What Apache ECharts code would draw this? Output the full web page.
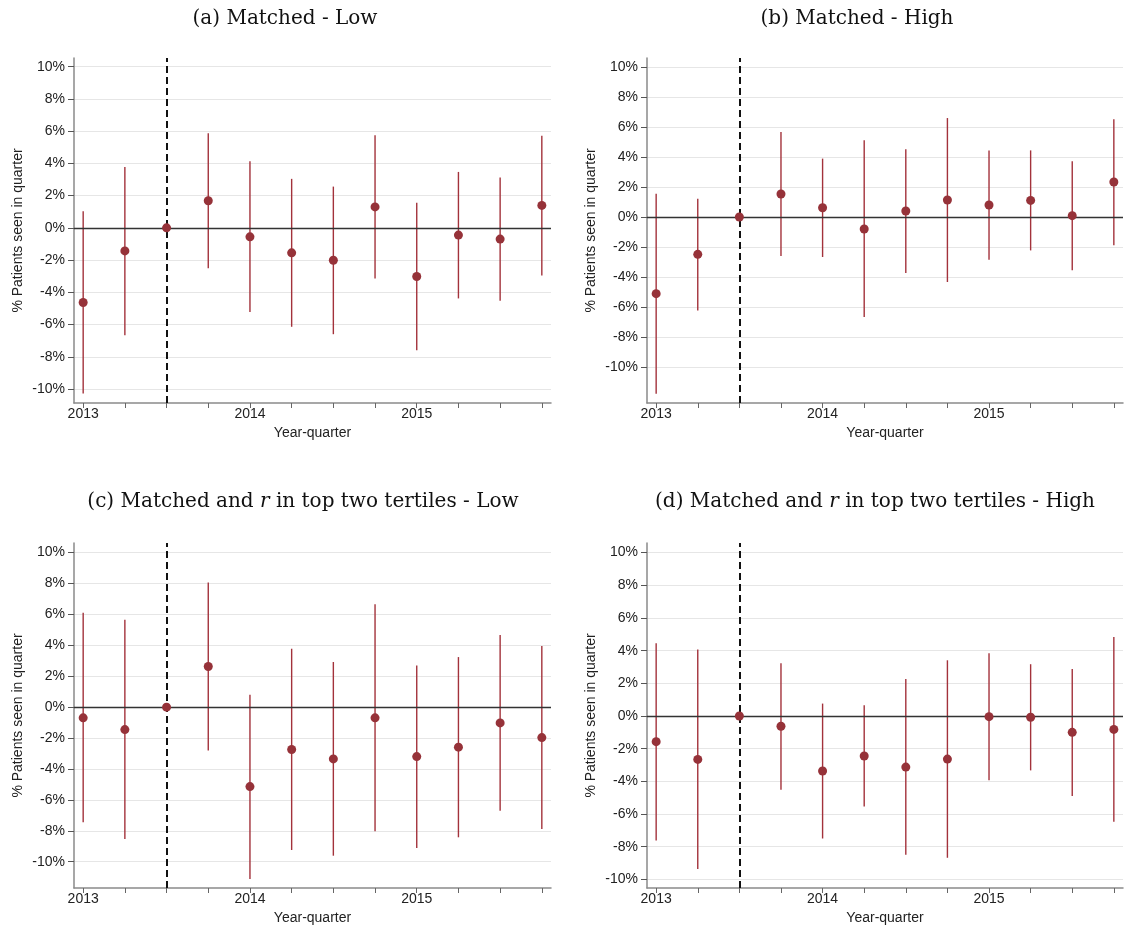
<!DOCTYPE html>
<html>
<head>
<meta charset="utf-8">
<script src="https://cdn.jsdelivr.net/npm/echarts@6/dist/echarts.min.js"></script>
<style>
  html, body { margin: 0; padding: 0; background: #fff; }
  #chart { width: 1130px; height: 928px; }
</style>
</head>
<body>
<div id="chart"></div>
<script>
// quarters 2013q1 .. 2015q4 as index 0..11
var quarters = [0, 1, 2, 3, 4, 5, 6, 7, 8, 9, 10, 11];
var yearTicks = [0, 4, 8];
var yearNames = ['2013', '2014', '2015'];
var yTicks = [-10, -8, -6, -4, -2, 0, 2, 4, 6, 8, 10];
var refQuarter = 2;

// (a) Matched - Low
var estA = [-4.63, -1.43, 0, 1.68, -0.56, -1.55, -2.01, 1.30, -3.02, -0.45, -0.70, 1.39];
var loA  = [-10.28, -6.66, 0, -2.50, -5.23, -6.14, -6.60, -3.14, -7.59, -4.38, -4.53, -2.96];
var hiA  = [1.03, 3.78, 0, 5.87, 4.14, 3.04, 2.56, 5.75, 1.55, 3.47, 3.12, 5.71];

// (b) Matched - High
var estB = [-5.12, -2.49, 0, 1.54, 0.62, -0.80, 0.40, 1.14, 0.80, 1.11, 0.09, 2.34];
var loB  = [-11.8, -6.24, 0, -2.61, -2.67, -6.68, -3.74, -4.34, -2.85, -2.23, -3.56, -1.89];
var hiB  = [1.56, 1.22, 0, 5.68, 3.90, 5.12, 4.52, 6.61, 4.45, 4.45, 3.72, 6.53];

// (c) Matched and r in top two tertiles - Low
var estC = [-0.69, -1.45, 0, 2.63, -5.14, -2.74, -3.35, -0.69, -3.20, -2.59, -1.02, -1.97];
var loC  = [-7.45, -8.53, 0, -2.81, -11.12, -9.24, -9.61, -8.03, -9.11, -8.42, -6.70, -7.88];
var hiC  = [6.11, 5.66, 0, 8.06, 0.80, 3.78, 2.92, 6.65, 2.70, 3.24, 4.67, 3.95];

// (d) Matched and r in top two tertiles - High
var estD = [-1.57, -2.66, 0, -0.63, -3.37, -2.45, -3.13, -2.64, -0.04, -0.08, -1.00, -0.82];
var loD  = [-7.62, -9.36, 0, -4.51, -7.50, -5.54, -8.50, -8.68, -3.94, -3.33, -4.90, -6.48];
var hiD  = [4.45, 4.07, 0, 3.23, 0.76, 0.65, 2.27, 3.41, 3.84, 3.17, 2.88, 4.84];

var panels = [
    { title: '(a) Matched - Low', cx: 280, ty: 14, est: estA, lo: loA, hi: hiA, min: -10.87, max: 10.54,
      grid: { left: 74, top: 58, width: 477, height: 345 } },
    { title: '(b) Matched - High', cx: 852, ty: 14, est: estB, lo: loB, hi: hiB, min: -12.42, max: 10.62,
      grid: { left: 647, top: 58, width: 476, height: 345 } },
    { title: '(c) Matched and {i|r} in top two tertiles - Low', cx: 298, ty: 497, est: estC, lo: loC, hi: hiC, min: -11.70, max: 10.62,
      grid: { left: 74, top: 543, width: 477, height: 345 } },
    { title: '(d) Matched and {i|r} in top two tertiles - High', cx: 870, ty: 497, est: estD, lo: loD, hi: hiD, min: -10.53, max: 10.59,
      grid: { left: 647, top: 543, width: 476, height: 345 } }
];

var ciColor = '#a3323b';
var dotColor = '#963239';
var labelFont = 'Liberation Sans, Arial, sans-serif';

var myChart = echarts.init(document.getElementById('chart'), null, { renderer: 'canvas' });

var grids = [], xAxes = [], yAxes = [], series = [], titles = [];

panels.forEach(function (p, i) {
    grids.push(p.grid);
    titles.push({
        text: p.title,
        left: p.cx,
        top: p.ty,
        textAlign: 'center',
        textVerticalAlign: 'middle',
        textStyle: {
            fontFamily: 'DejaVu Serif, serif',
            fontSize: 20,
            fontWeight: 'normal',
            color: '#111',
            rich: {
                i: { fontFamily: 'DejaVu Serif, serif', fontSize: 20, fontStyle: 'italic', color: '#111' }
            }
        }
    });
    xAxes.push({
        type: 'value',
        gridIndex: i,
        min: -0.22,
        max: 11.22,
        name: 'Year-quarter',
        nameLocation: 'middle',
        nameGap: 23,
        nameTextStyle: { fontFamily: labelFont, fontSize: 14, color: '#222' },
        axisLine: { show: true, onZero: false, lineStyle: { color: '#8a8a8a', width: 1.5 } },
        axisTick: { show: true, length: 5, customValues: quarters, lineStyle: { color: '#666' } },
        axisLabel: {
            customValues: yearTicks,
            margin: 4,
            fontFamily: labelFont,
            fontSize: 14,
            color: '#222',
            formatter: function (v) { return yearNames[yearTicks.indexOf(v)]; }
        },
        splitLine: { show: false }
    });
    yAxes.push({
        type: 'value',
        gridIndex: i,
        min: p.min,
        max: p.max,
        name: '% Patients seen in quarter',
        nameLocation: 'middle',
        nameGap: 49,
        nameTextStyle: { fontFamily: labelFont, fontSize: 14, color: '#222' },
        axisLine: { show: true, onZero: false, lineStyle: { color: '#8a8a8a', width: 1.5 } },
        axisTick: { show: true, length: 6, customValues: yTicks, lineStyle: { color: '#555', width: 1 } },
        axisLabel: {
            customValues: yTicks,
            margin: 9,
            fontFamily: labelFont,
            fontSize: 14,
            color: '#222',
            formatter: function (v) { return v + '%'; }
        },
        splitLine: { show: true, lineStyle: { color: '#e6e6e6', width: 1 } }
    });

    var ciData = quarters.map(function (q, k) { return [q, p.lo[k], p.hi[k]]; });
    series.push({
        type: 'custom',
        xAxisIndex: i,
        yAxisIndex: i,
        data: ciData,
        z: 3,
        silent: true,
        renderItem: function (params, api) {
            var a = api.coord([api.value(0), api.value(1)]);
            var b = api.coord([api.value(0), api.value(2)]);
            return {
                type: 'line',
                shape: { x1: a[0], y1: a[1], x2: b[0], y2: b[1] },
                style: { stroke: ciColor, lineWidth: 1.4 }
            };
        },
        markLine: {
            silent: true,
            symbol: 'none',
            label: { show: false },
            data: [
                { yAxis: 0, lineStyle: { color: '#333', width: 1.3, type: 'solid' } },
                { xAxis: refQuarter, lineStyle: { color: '#111', width: 2, type: [7, 4] } }
            ]
        }
    });
    series.push({
        type: 'scatter',
        xAxisIndex: i,
        yAxisIndex: i,
        z: 5,
        symbol: 'circle',
        symbolSize: 9,
        itemStyle: { color: dotColor, opacity: 1 },
        data: quarters.map(function (q, k) { return [q, p.est[k]]; })
    });
});

var option = {
    animation: false,
    backgroundColor: '#fff',
    title: titles,
    grid: grids,
    xAxis: xAxes,
    yAxis: yAxes,
    series: series
};

option && myChart.setOption(option);
</script>
</body>
</html>
